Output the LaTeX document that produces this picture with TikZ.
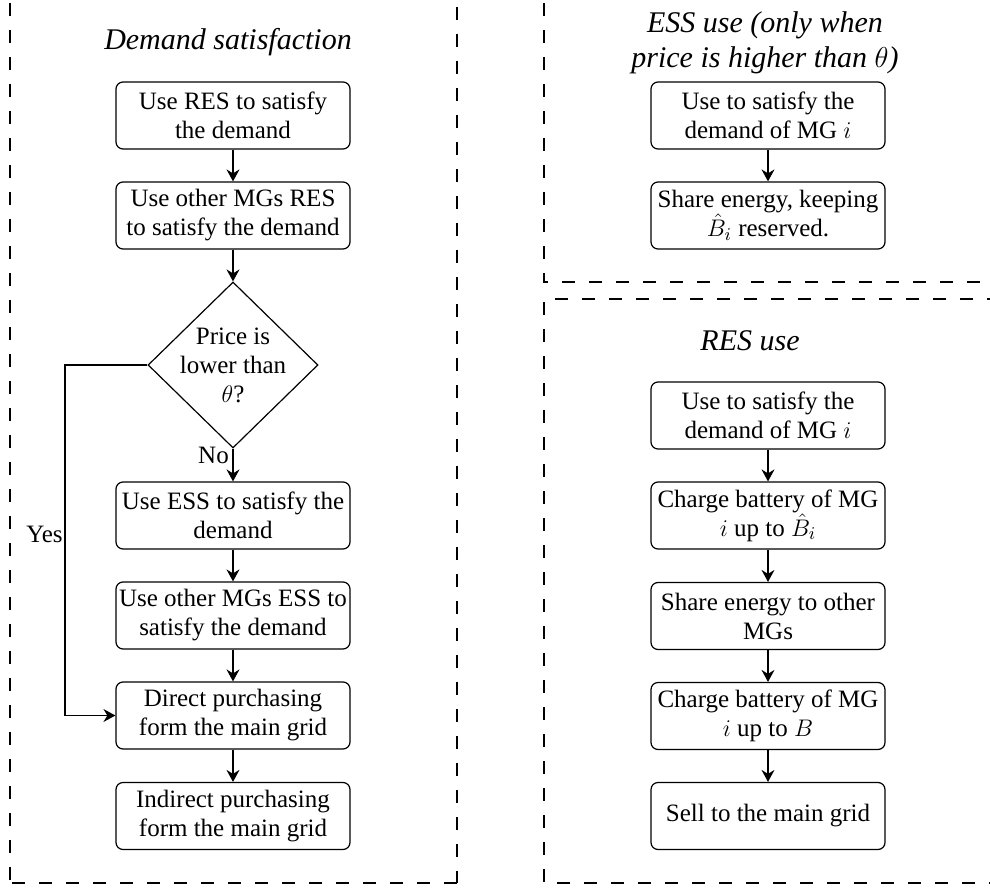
\documentclass[tikz,border=0pt]{standalone}
\usepackage{fontspec}
\setmainfont{Liberation Serif}
\usetikzlibrary{shapes.geometric,arrows.meta}
\begin{document}
\begin{tikzpicture}[x=0.5pt,y=-0.5pt,
  stepbox/.style={draw, line width=0.6pt, rounded corners=3.5pt,
    minimum width=117pt, minimum height=33.5pt, inner xsep=1pt, inner ysep=0pt,
    align=center, font=\fontsize{12.5}{14.5}\selectfont},
  decision/.style={draw, diamond, line width=0.6pt, minimum width=85pt,
    minimum height=83pt, inner sep=0pt},
  flow/.style={line width=0.6pt, -{Stealth[length=6pt,width=6.5pt,inset=2pt]}},
  frame/.style={line width=0.65pt, dash pattern=on 6.5pt off 7pt},
  heading/.style={font=\fontsize{15}{17.5}\selectfont\itshape, align=center, inner sep=0pt},
  tag/.style={font=\fontsize{12.5}{14.5}\selectfont, inner sep=0pt}]
\useasboundingbox (0,0) rectangle (990,888);

% dashed section frames
\begin{scope}
  \clip (0,0) rectangle (990,888);
  \draw[frame] (10,-24) -- (10,883);
  \draw[frame] (12,883) -- (457,883);
  \draw[frame] (457,-20) -- (457,883);
  \draw[frame] (544,-24) -- (544,282) -- (1000,282);
  \draw[frame] (1000,299) -- (544,299) -- (544,883) -- (1000,883);
\end{scope}

% demand satisfaction
\node[heading, anchor=base] (tdem) at (228,50) {Demand satisfaction};
\node[stepbox] (d1) at (233,115.5) {Use RES to satisfy\\the demand};
\node[stepbox] (d2) at (233,215.5) {Use other MGs RES\\to satisfy the demand};
\node[decision, label={[align=center, font=\fontsize{12.5}{14.5}\selectfont]center:Price is\\lower than\\$\theta$?}] (dec) at (233,365) {};
\node[stepbox] (d3) at (233,515.5) {Use ESS to satisfy the\\demand};
\node[stepbox] (d4) at (233,615.5) {Use other MGs ESS to\\satisfy the demand};
\node[stepbox] (d5) at (233,715.5) {Direct purchasing\\form the main grid};
\node[stepbox] (d6) at (233,816) {Indirect purchasing\\form the main grid};
\node[tag, anchor=base] (no) at (213.5,463) {No};
\node[tag, anchor=base] (yes) at (44.5,542) {Yes};
\coordinate (yesbend) at (65,365);

\draw[flow] (d1) -- (d2);
\draw[flow] (d2) -- (dec);
\draw[flow] (dec) -- (d3);
\draw[flow] (d3) -- (d4);
\draw[flow] (d4) -- (d5);
\draw[flow] (d5) -- (d6);
\draw[flow] (dec.west) -- (yesbend) |- (d5.west);

% ESS use
\node[heading] (tess) at (765,43) {ESS use (only when\\price is higher than $\theta$)};
\node[stepbox] (e1) at (768,115.5) {Use to satisfy the\\demand of MG $i$};
\node[stepbox] (e2) at (768,215.5) {Share energy, keeping\\$\hat{B}_i$ reserved.};
\draw[flow] (e1) -- (e2);

% RES use
\node[heading, anchor=base] (tres) at (750,350) {RES use};
\node[stepbox] (r1) at (768,415.5) {Use to satisfy the\\demand of MG $i$};
\node[stepbox] (r2) at (768,515.5) {Charge battery of MG\\$i$ up to $\hat{B}_i$};
\node[stepbox] (r3) at (768,616) {Share energy to other\\MGs};
\node[stepbox] (r4) at (768,716) {Charge battery of MG\\$i$ up to $B$};
\node[stepbox] (r5) at (768,816) {Sell to the main grid};
\draw[flow] (r1) -- (r2);
\draw[flow] (r2) -- (r3);
\draw[flow] (r3) -- (r4);
\draw[flow] (r4) -- (r5);
\end{tikzpicture}
\end{document}
